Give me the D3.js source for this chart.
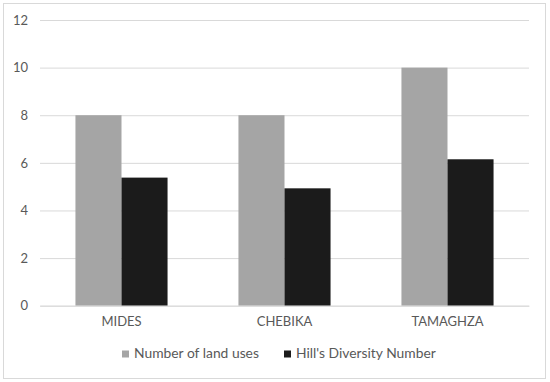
<!DOCTYPE html>
<html><head><meta charset="utf-8">
<script src="https://cdn.jsdelivr.net/npm/d3@7"></script>
<style>body{margin:0;background:#fff}svg{display:block}text{font-family:Lato,"Open Sans",sans-serif;fill:#595959}</style>
</head><body><svg id="c" width="550" height="382"></svg>
<script>
const categories = ["MIDES", "CHEBIKA", "TAMAGHZA"];
const seriesNames = ["Number of land uses", "Hill's Diversity Number"];
const landUses = [8, 8, 10];
const hillDiversity = [5.38, 4.93, 6.15];
const yTicks = [0, 2, 4, 6, 8, 10, 12];
const colors = ["#a5a5a5", "#1b1b1b"];
const FONT = "Lato";

const svg = d3.select("#c");
svg.append("rect").attr("x", 3.5).attr("y", 3.5).attr("width", 542).attr("height", 375)
  .attr("fill", "#fff").attr("stroke", "#d9d9d9");

const x = d3.scaleBand().domain(categories).range([40, 529]).paddingInner(0.435).paddingOuter(0.2175);
const xs = d3.scaleBand().domain([0, 1]).range([0, x.bandwidth()]);
const y = d3.scaleLinear().domain([0, 12]).range([305.7, 20]);

const gy = svg.append("g").attr("transform", "translate(40,0)")
  .call(d3.axisLeft(y).tickValues(yTicks).tickSize(-489).tickPadding(12));
gy.select(".domain").remove();
gy.selectAll("line").attr("stroke", "#d9d9d9");
gy.selectAll("text").attr("font-size", 13).attr("fill", "#595959").style("font-family", FONT);

const data = categories.map((c, i) => ({c, v: [landUses[i], hillDiversity[i]]}));
const g = svg.append("g");
data.forEach(d => {
  d.v.forEach((v, k) => {
    g.append("rect").attr("x", x(d.c) + xs(k)).attr("width", xs.bandwidth())
      .attr("y", y(v)).attr("height", y(0) - y(v)).attr("fill", colors[k]);
  });
});

const gx = svg.append("g").attr("transform", `translate(0,${y(0)})`)
  .call(d3.axisBottom(x).tickSize(0).tickPadding(11));
gx.select(".domain").attr("stroke", "#d9d9d9");
gx.selectAll("text").attr("font-size", 13).attr("fill", "#595959").style("font-family", FONT);

const legend = svg.append("g");
const legX = [122, 284];
const texts = [];
seriesNames.forEach((s, k) => {
  legend.append("rect").attr("x", legX[k]).attr("y", 350.5).attr("width", 7).attr("height", 7).attr("fill", colors[k]);
  texts.push(legend.append("text").attr("x", legX[k] + 12).attr("y", 358).attr("font-size", 13)
    .style("font-family", FONT).text(s));
});
const w0 = texts[0].node().getComputedTextLength();
const fs = Math.max(11, Math.min(15, 13 * 125 / w0));
texts.forEach(t => t.attr("font-size", fs));
</script></body></html>
